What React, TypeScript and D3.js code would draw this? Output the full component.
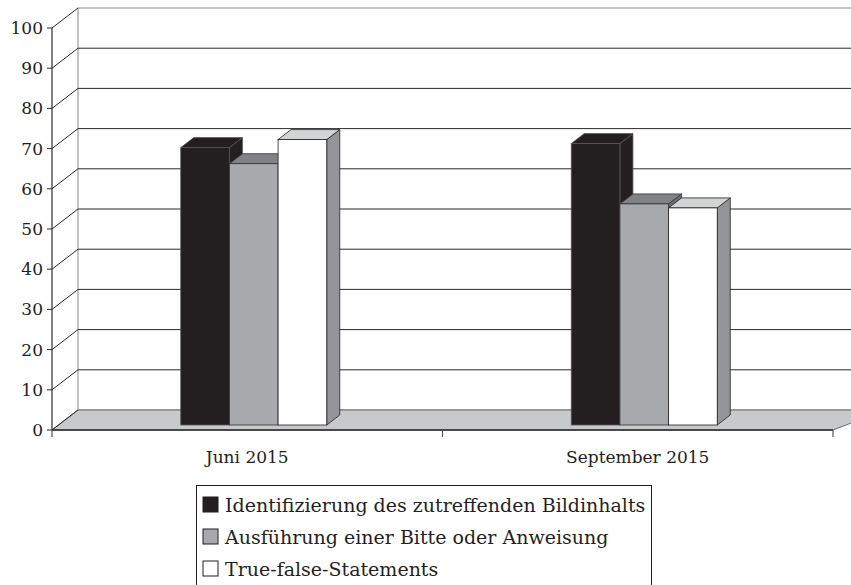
import React from "react";
import * as d3 from "d3";

const categories = ["Juni 2015", "September 2015"];
const seriesNames = [
  "Identifizierung des zutreffenden Bildinhalts",
  "Ausführung einer Bitte oder Anweisung",
  "True-false-Statements",
];
const seriesIdent = [69, 70];
const seriesAusf = [65, 55];
const seriesTrue = [71, 54];
const yTicks = [0, 10, 20, 30, 40, 50, 60, 70, 80, 90, 100];

const seriesValues = [seriesIdent, seriesAusf, seriesTrue];
const faceColors = [
  { front: "#231f20", top: "#231f20", side: "#231f20", stroke: "#555" },
  { front: "#a7a9ac", top: "#808285", side: "#6d6e71", stroke: "#333" },
  { front: "#ffffff", top: "#d1d3d4", side: "#939598", stroke: "#231f20" },
];
const legendFill = ["#231f20", "#a7a9ac", "#ffffff"];

const W = 851;
const H = 585;
const FONT = "'DejaVu Serif', serif";

export default function App() {
  const x0 = 52;
  const x1 = 833;
  const y = d3.scaleLinear().domain([0, 100]).range([430, 28]);
  const DX = 26;
  const DY = -20;
  const xBand = d3.scaleBand<string>().domain(categories).range([x0, x1]).padding(0);
  const groupW = 146;
  const xSub = d3.scaleBand<string>().domain(seriesNames).range([0, groupW]).padding(0);
  const f0 = 0.25;
  const f1 = 0.75;
  const backRight = x1 + DX;

  const bars: JSX.Element[] = [];
  categories.forEach((cat, ci) => {
    const cx = (xBand(cat) as number) + xBand.bandwidth() / 2;
    seriesNames.forEach((s, si) => {
      const v = seriesValues[si][ci];
      const bx0 = cx - groupW / 2 + (xSub(s) as number) + DX * f0;
      const bx1 = bx0 + xSub.bandwidth();
      const yt = y(v) + DY * f0;
      const yb = y(0) + DY * f0;
      const ddx = DX * (f1 - f0);
      const ddy = DY * (f1 - f0);
      const c = faceColors[si];
      bars.push(
        <g key={cat + s}>
          <polygon
            points={`${bx1},${yt} ${bx1 + ddx},${yt + ddy} ${bx1 + ddx},${yb + ddy} ${bx1},${yb}`}
            fill={c.side}
            stroke={c.stroke}
            strokeWidth={0.8}
            strokeLinejoin="round"
          />
          <polygon
            points={`${bx0},${yt} ${bx0 + ddx},${yt + ddy} ${bx1 + ddx},${yt + ddy} ${bx1},${yt}`}
            fill={c.top}
            stroke={c.stroke}
            strokeWidth={0.8}
            strokeLinejoin="round"
          />
          <rect x={bx0} y={yt} width={bx1 - bx0} height={yb - yt} fill={c.front} stroke={c.stroke} strokeWidth={0.8} />
        </g>
      );
    });
  });

  const catTicks = [x0, ...categories.map((c) => (xBand(c) as number) + xBand.bandwidth())];

  return (
    <svg width={W} height={H} style={{ position: "absolute", left: 0, top: 0 }} fontFamily={FONT}>
      <rect x={0} y={0} width={W} height={H} fill="#fff" />
      {/* back wall */}
      <rect x={x0 + DX} y={y(100) + DY} width={backRight - (x0 + DX)} height={y(0) - y(100)} fill="#fff" stroke="#8a8a8a" strokeWidth={1} />
      {/* floor */}
      <polygon
        points={`${x0},${y(0)} ${x0 + DX},${y(0) + DY} ${backRight + DX},${y(0) + DY} ${x1},${y(0)}`}
        fill="#c8c9cb"
        stroke="#6a6a6a"
        strokeWidth={1}
      />
      {/* gridlines */}
      {yTicks.map((t) => (
        <g key={t}>
          <line x1={x0} y1={y(t)} x2={x0 + DX} y2={y(t) + DY} stroke="#2a2a2a" strokeWidth={1} />
          {t > 0 && t < 100 && (
            <line x1={x0 + DX} y1={y(t) + DY} x2={W} y2={y(t) + DY} stroke="#2a2a2a" strokeWidth={1} />
          )}
          <line x1={x0 - 5} y1={y(t)} x2={x0} y2={y(t)} stroke="#2a2a2a" strokeWidth={1} />
          <text x={43} y={y(t)} textAnchor="end" dominantBaseline="central" fontSize={17} fill="#231f20">
            {t}
          </text>
        </g>
      ))}
      {/* y axis line */}
      <line x1={x0} y1={y(100)} x2={x0} y2={y(0)} stroke="#2a2a2a" strokeWidth={1.2} />
      {/* x axis */}
      <line x1={x0} y1={y(0)} x2={x1} y2={y(0)} stroke="#2a2a2a" strokeWidth={1.5} />
      {catTicks.map((t, i) => (
        <line key={i} x1={t} y1={y(0)} x2={t} y2={y(0) + 7} stroke="#555" strokeWidth={1.2} />
      ))}
      {bars}
      {categories.map((c) => (
        <text key={c} x={(xBand(c) as number) + xBand.bandwidth() / 2} y={463} textAnchor="middle" fontSize={17} fill="#231f20">
          {c}
        </text>
      ))}
      {/* legend */}
      <rect x={196.5} y={485.5} width={455} height={120} fill="#fff" stroke="#231f20" strokeWidth={1} />
      {seriesNames.map((s, i) => (
        <g key={s}>
          <rect x={203} y={497 + i * 32} width={15} height={15} fill={legendFill[i]} stroke="#231f20" strokeWidth={1} />
          <text x={225} y={512 + i * 32} fontSize={19} fill="#231f20">
            {s}
          </text>
        </g>
      ))}
    </svg>
  );
}
